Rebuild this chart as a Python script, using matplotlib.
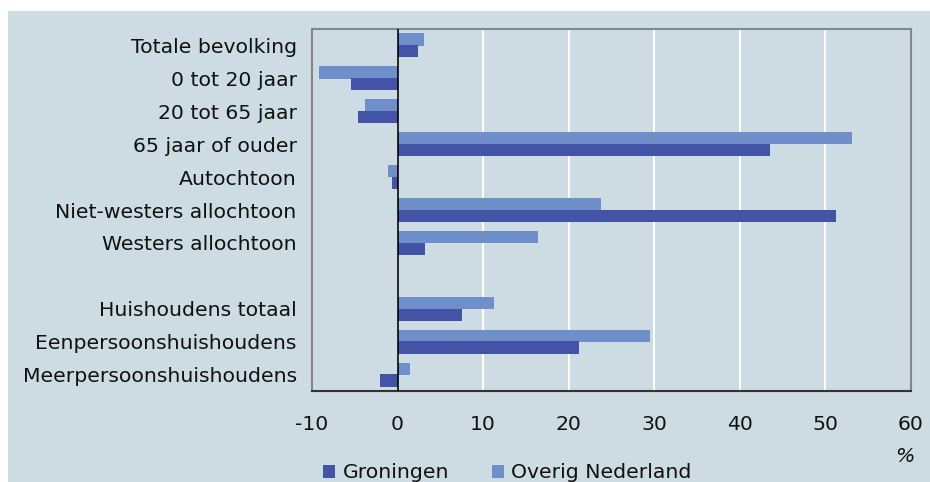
import numpy as np
import matplotlib
matplotlib.use('Agg')
import matplotlib.pyplot as plt
from matplotlib.patches import Rectangle, Patch

categories = ['Totale bevolking', '0 tot 20 jaar', '20 tot 65 jaar', '65 jaar of ouder',
              'Autochtoon', 'Niet-westers allochtoon', 'Westers allochtoon', '',
              'Huishoudens totaal', 'Eenpersoonshuishoudens', 'Meerpersoonshuishoudens']
groningen = [2.4, -5.5, -4.6, 43.5, -0.7, 51.2, 3.2, np.nan, 7.5, 21.2, -2.1]
overig = [3.1, -9.2, -3.8, 53.1, -1.1, 23.8, 16.4, np.nan, 11.3, 29.5, 1.5]
xticks = [-10, 0, 10, 20, 30, 40, 50, 60]

bg = '#cddce2'
dark = '#4353a5'
light = '#6f8fca'
fs = 14.7

fig = plt.figure(figsize=(9.3, 4.82), dpi=100)
fig.add_artist(Rectangle((8 / 930, 0), 1, 1 - 11 / 482, transform=fig.transFigure,
                         facecolor=bg, edgecolor='none', zorder=0))

ax = fig.add_axes([312 / 930, 1 - 391 / 482, (911 - 312) / 930, (391 - 29) / 482])
ax.set_facecolor(bg)

y = np.arange(len(categories))
ax.barh(y - 0.18, overig, height=0.37, color=light, zorder=3)
ax.barh(y + 0.18, groningen, height=0.37, color=dark, zorder=3)

ax.set_ylim(len(categories) - 0.5, -0.5)
ax.set_xlim(-10, 60)
ax.set_xticks(xticks)
ax.set_xticklabels([str(t) for t in xticks])
ax.set_yticks(y)
ax.set_yticklabels(categories)
ax.xaxis.grid(True, color='white', lw=1.5, zorder=1)
ax.set_axisbelow(True)
ax.axvline(0, color='black', lw=1.2, zorder=4)

for s in ['top', 'right', 'left']:
    ax.spines[s].set_color('#868686')
    ax.spines[s].set_linewidth(1.5)
ax.spines['bottom'].set_color('#333333')
ax.spines['bottom'].set_linewidth(1.5)

ax.tick_params(axis='both', length=0, labelsize=fs, colors='#111111')
ax.tick_params(axis='y', pad=11)
ax.tick_params(axis='x', pad=17)

fig.text(905 / 930, 1 - 457 / 482, '%', fontsize=fs, style='italic',
         ha='center', va='center', color='#111111')

handles = [Patch(facecolor=dark, label='Groningen'),
           Patch(facecolor=light, label='Overig Nederland')]
fig.legend(handles=handles, loc='center left', bbox_to_anchor=(323 / 930, 1 - 473 / 482),
           ncol=2, frameon=False, fontsize=fs, handlelength=0.6, handleheight=0.6,
           handletextpad=0.35, columnspacing=2.1, borderpad=0, borderaxespad=0,
           labelcolor='#111111')

fig.savefig('out.png', dpi=100, facecolor='white')
